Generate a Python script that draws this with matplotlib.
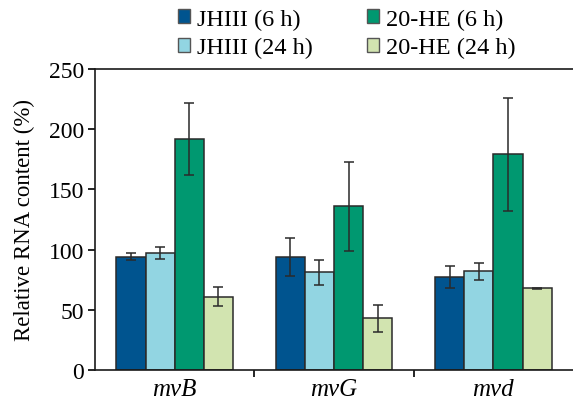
import numpy as np
import matplotlib.pyplot as plt

plt.rcParams['font.family'] = ['Liberation Serif', 'DejaVu Serif']

genes = ['mvB', 'mvG', 'mvd']
series = ['JHIII (6 h)', 'JHIII (24 h)', '20-HE (6 h)', '20-HE (24 h)']
colors = ['#00548f', '#92d5e2', '#009870', '#d2e4b0']

jh6 = [94, 94, 77]
jh6_err = [3, 16, 9]
jh24 = [97, 81, 82]
jh24_err = [5, 10, 7]
he6 = [192, 136, 179]
he6_err = [30, 37, 47]
he24 = [61, 43, 68]
he24_err = [8, 11, 0.5]

values = [jh6, jh24, he6, he24]
errors = [jh6_err, jh24_err, he6_err, he24_err]

fig = plt.figure(figsize=(5.73, 4.02), dpi=100)
ax = fig.add_axes([0.166, 0.077, 0.834, 0.749])

x = np.arange(len(genes))
w = 0.183
handles = []
for i in range(4):
    pos = x + (i - 1.5) * w
    b = ax.bar(pos, values[i], w, color=colors[i], edgecolor='#2a2a2a', linewidth=1.1,
               yerr=errors[i], capsize=3.5,
               error_kw=dict(ecolor='#2a2a2a', elinewidth=1.1, capthick=1.1))
    handles.append(b)

ax.set_xlim(-0.5, 2.5)
ax.set_ylim(0, 250)
ax.set_yticks([0, 50, 100, 150, 200, 250])
ax.set_xticks(x)
ax.set_xticklabels(genes, fontstyle='italic', fontsize=18)
ax.set_xticks([0.5, 1.5], minor=True)
ax.tick_params(axis='x', which='major', length=0, pad=6)
ax.tick_params(axis='x', which='minor', length=5, direction='out', width=1.2)
ax.tick_params(axis='y', labelsize=17, length=5, direction='out', width=1.2, pad=3)
ax.set_ylabel('Relative RNA content (%)', fontsize=16.5, labelpad=10)
ax.spines['right'].set_visible(False)
for s in ['left', 'bottom', 'top']:
    ax.spines[s].set_linewidth(1.2)
    ax.spines[s].set_color('#1a1a1a')

leg = fig.legend(handles, series,
                 ncol=2, loc='upper center', bbox_to_anchor=(0.605, 1.03), frameon=False,
                 fontsize=17.5, handlelength=0.5, handleheight=0.5, handletextpad=0.3,
                 columnspacing=2.2, labelspacing=0.3)
for p in leg.get_patches():
    p.set_edgecolor('#555555')
    p.set_linewidth(1.0)

fig.savefig('out.png', dpi=100)
